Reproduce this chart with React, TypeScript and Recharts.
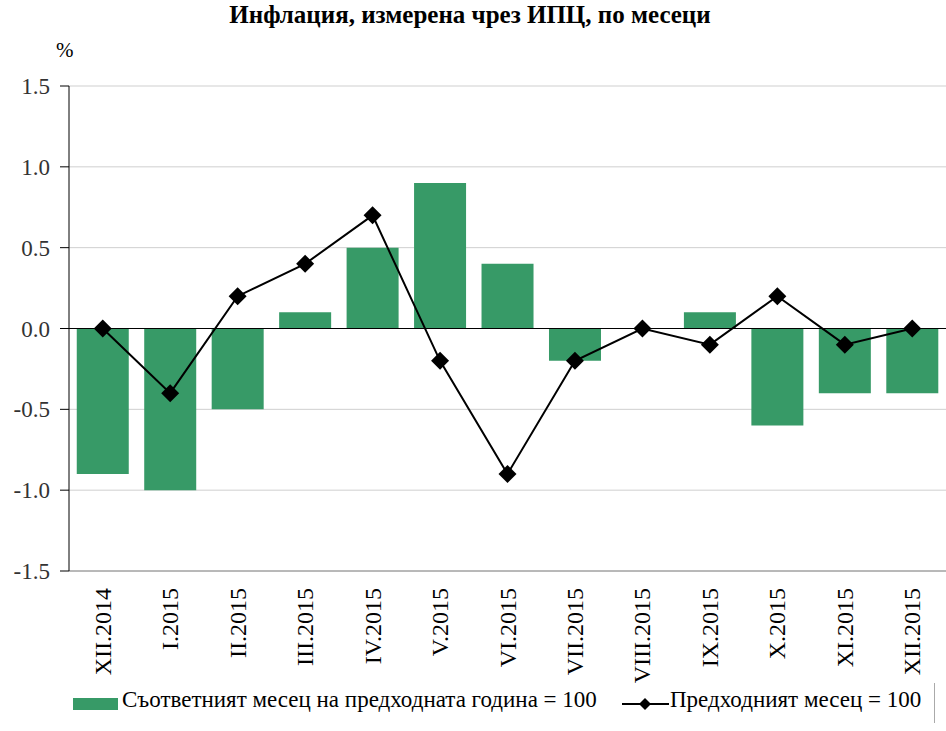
import React from 'react'
import {
  ComposedChart,
  Bar,
  Line,
  XAxis,
  YAxis,
  CartesianGrid,
  ReferenceLine,
  Legend,
} from 'recharts'

const months = [
  'XII.2014', 'I.2015', 'II.2015', 'III.2015', 'IV.2015', 'V.2015', 'VI.2015',
  'VII.2015', 'VIII.2015', 'IX.2015', 'X.2015', 'XI.2015', 'XII.2015',
]
const yearOnYear = [-0.9, -1.0, -0.5, 0.1, 0.5, 0.9, 0.4, -0.2, 0.0, 0.1, -0.6, -0.4, -0.4]
const monthOnMonth = [0.0, -0.4, 0.2, 0.4, 0.7, -0.2, -0.9, -0.2, 0.0, -0.1, 0.2, -0.1, 0.0]
const yTicks = [-1.5, -1.0, -0.5, 0.0, 0.5, 1.0, 1.5]

const data = months.map((m, i) => ({ month: m, yoy: yearOnYear[i], mom: monthOnMonth[i] }))

const FONT = 'Liberation Serif'
const GREEN = '#379a67'

const Diamond = (props: any) => {
  const { cx, cy } = props
  if (cx == null || cy == null) return null
  const r = 9
  return (
    <polygon
      points={`${cx},${cy - r} ${cx + r},${cy} ${cx},${cy + r} ${cx - r},${cy}`}
      fill="#000"
    />
  )
}

// rotated month labels, reading bottom to top
const MonthTick = (props: any) => {
  const { x, y, payload } = props
  return (
    <text
      x={x}
      y={y}
      transform={`rotate(-90, ${x}, ${y})`}
      textAnchor="end"
      dy={8}
      fontFamily={FONT}
      fontSize={24}
      fill="#000"
    >
      {payload.value}
    </text>
  )
}

const LegendContent = () => (
  <div style={{ position: 'relative', height: 34, fontFamily: FONT, fontSize: 23, color: '#000' }}>
    <div style={{ position: 'absolute', left: 73, top: 11, width: 45, height: 12, background: GREEN }} />
    <span style={{ position: 'absolute', left: 122, top: 0, whiteSpace: 'nowrap' }}>
      Съответният месец на предходната година = 100
    </span>
    <svg style={{ position: 'absolute', left: 622, top: 7 }} width={47} height={20}>
      <line x1={0} y1={10} x2={47} y2={10} stroke="#000" strokeWidth={2} />
      <polygon points="23,4 29,10 23,16 17,10" fill="#000" />
    </svg>
    <span style={{ position: 'absolute', left: 670, top: 0, whiteSpace: 'nowrap' }}>
      Предходният месец = 100
    </span>
    <div style={{ position: 'absolute', left: 934, top: -4, width: 1, height: 40, background: '#aaa' }} />
  </div>
)

export default function App() {
  return (
    <div style={{ position: 'absolute', left: 0, top: 0, width: 946, height: 731, background: '#fff' }}>
      <div
        style={{
          position: 'absolute',
          left: 0,
          width: 940,
          top: 1,
          textAlign: 'center',
          fontFamily: FONT,
          fontWeight: 'bold',
          fontSize: 25,
        }}
      >
        Инфлация, измерена чрез ИПЦ, по месеци
      </div>
      <div style={{ position: 'absolute', left: 56, top: 38, fontFamily: FONT, fontSize: 21 }}>%</div>
      <ComposedChart
        width={946}
        height={731}
        data={data}
        margin={{ top: 86, right: 0, bottom: 0, left: 0 }}
        barCategoryGap="11.5%"
      >
        <CartesianGrid vertical={false} stroke="#cfcfcf" />
        <XAxis
          dataKey="month"
          interval={0}
          height={120}
          tick={<MonthTick />}
          tickLine={false}
          axisLine={{ stroke: '#8a8a8a' }}
          tickMargin={11}
        />
        <YAxis
          domain={[-1.5, 1.5]}
          ticks={yTicks}
          width={69}
          tickFormatter={(v: number) => v.toFixed(1)}
          tick={{ fontFamily: FONT, fontSize: 23, fill: '#333' }}
          axisLine={{ stroke: '#000' }}
          tickLine={{ stroke: '#000' }}
          tickSize={9}
          tickMargin={10}
        />
        <ReferenceLine y={0} stroke="#000" strokeWidth={1} />
        <Bar dataKey="yoy" fill={GREEN} isAnimationActive={false} />
        <Line
          dataKey="mom"
          stroke="#000"
          strokeWidth={2}
          dot={<Diamond />}
          activeDot={false}
          type="linear"
          isAnimationActive={false}
        />
        <Legend
          verticalAlign="bottom"
          align="left"
          height={40}
          content={<LegendContent />}
          wrapperStyle={{ left: 0, bottom: 4, width: 946 }}
        />
      </ComposedChart>
    </div>
  )
}
